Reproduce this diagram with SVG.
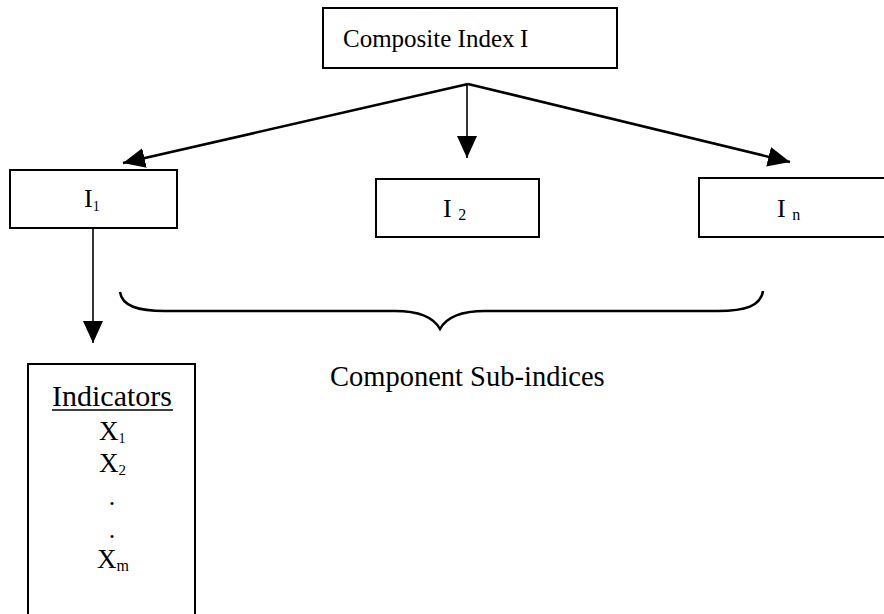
<svg xmlns="http://www.w3.org/2000/svg" width="884" height="614" viewBox="0 0 884 614">
<style>
.box{fill:#fff;stroke:#000;stroke-width:2}
.t{font-family:"Liberation Serif","Times New Roman",serif;fill:#000}
.ln{stroke:#000;fill:none}
</style>
<defs>
<marker id="ah" markerUnits="userSpaceOnUse" markerWidth="26" markerHeight="22" refX="22" refY="10" orient="auto">
<path d="M0,0 L22,10 L0,20 z" fill="#000"/>
</marker>
</defs>
<rect width="884" height="614" fill="#fff"/>
<g id="connectors">
<line class="ln" x1="468" y1="84" x2="123" y2="163" stroke-width="2.6" marker-end="url(#ah)"/>
<line class="ln" x1="468" y1="84" x2="790" y2="162" stroke-width="2.6" marker-end="url(#ah)"/>
<line class="ln" x1="467" y1="84" x2="467" y2="158" stroke-width="1.6" marker-end="url(#ah)"/>
<line class="ln" x1="93" y1="228" x2="93" y2="343" stroke-width="1.6" marker-end="url(#ah)"/>
</g>
<g id="composite">
<rect class="box" x="323" y="8" width="294" height="60"/>
<text class="t" x="343" y="47" font-size="25">Composite Index</text>
<text class="t" x="520" y="47" font-size="25">I</text>
</g>
<g id="i1">
<rect class="box" x="10" y="170" width="167" height="58"/>
<text class="t" x="84" y="207" font-size="26">I<tspan font-size="14" dy="4">1</tspan></text>
</g>
<g id="i2">
<rect class="box" x="376" y="179" width="163" height="58"/>
<text class="t" x="443" y="217" font-size="26">I <tspan font-size="16" dy="3">2</tspan></text>
</g>
<g id="in">
<path class="box" d="M886,178 L699,178 L699,237 L886,237"/>
<text class="t" x="777" y="217" font-size="26">I <tspan font-size="16" dy="3">n</tspan></text>
</g>
<g id="brace">
<path class="ln" stroke-width="2.5" d="M120,292 C122,306 138,311 165,311 L395,311 C420,311 434,318 440,329 C446,318 460,311 485,311 L718,311 C745,311 761,306 763,291"/>
<text class="t" x="330" y="386" font-size="28.5">Component Sub-indices</text>
</g>
<g id="indicators">
<path class="box" d="M28,620 L28,364 L195,364 L195,620"/>
<text class="t" x="112" y="406" font-size="30" text-anchor="middle">Indicators</text>
<line class="ln" x1="52" y1="410" x2="173" y2="410" stroke-width="1.6"/>
<text class="t" x="99" y="440" font-size="27">X<tspan font-size="14" dy="3">1</tspan></text>
<text class="t" x="99" y="472" font-size="27">X<tspan font-size="15" dy="3">2</tspan></text>
<text class="t" x="112" y="505" font-size="26" text-anchor="middle">.</text>
<text class="t" x="112" y="538" font-size="26" text-anchor="middle">.</text>
<text class="t" x="97" y="568" font-size="27">X<tspan font-size="16" dy="3">m</tspan></text>
</g>
</svg>
